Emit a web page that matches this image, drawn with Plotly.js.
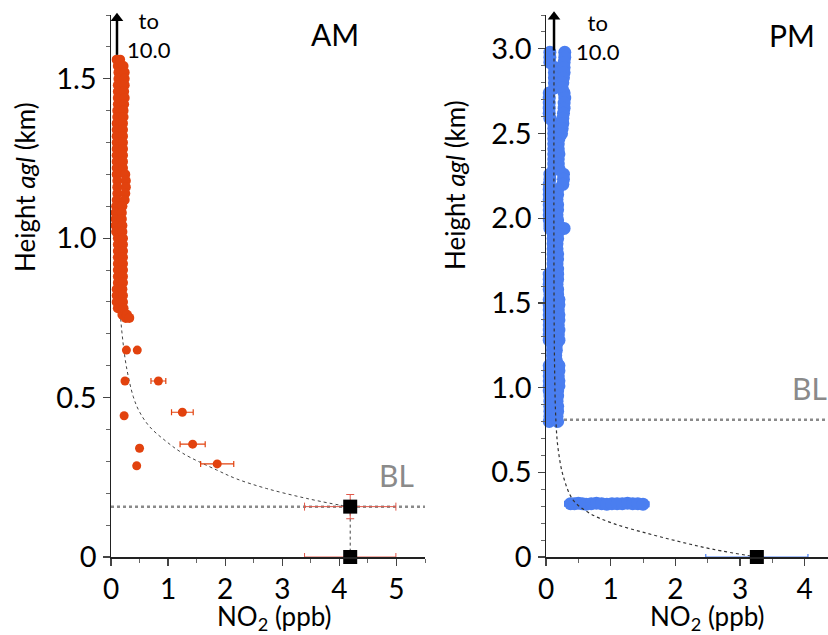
<!DOCTYPE html>
<html>
<head>
<meta charset="utf-8">
<script src="https://cdn.plot.ly/plotly-3.0.1.min.js"></script>
<style>html,body{margin:0;padding:0;background:#fff;}#chart{width:828px;height:635px;}</style>
</head>
<body>
<div id="chart"></div>
<script>
// ---------- AM panel data ----------
// dense aircraft profile above the boundary layer: height (km) with left/right extent of NO2 (ppb)
const amBandH  = [1.56,1.54,1.52,1.50,1.48,1.46,1.44,1.42,1.40,1.38,1.36,1.34,1.32,1.30,1.28,1.26,1.24,1.22,1.20,1.18,1.16,1.14,1.12,1.10,1.08,1.06,1.04,1.02,1.00,0.98,0.96,0.94,0.92,0.90,0.88,0.86,0.84,0.82,0.80,0.78,0.76,0.75];
const amBandXL = [0.10,0.12,0.13,0.13,0.12,0.12,0.12,0.12,0.11,0.11,0.10,0.10,0.10,0.10,0.10,0.10,0.10,0.10,0.10,0.11,0.11,0.11,0.10,0.09,0.08,0.08,0.08,0.09,0.12,0.12,0.12,0.12,0.12,0.12,0.12,0.12,0.10,0.10,0.10,0.12,0.20,0.26];
const amBandXR = [0.16,0.22,0.24,0.24,0.24,0.23,0.24,0.23,0.22,0.22,0.21,0.21,0.21,0.21,0.21,0.21,0.21,0.21,0.25,0.26,0.26,0.25,0.24,0.20,0.19,0.19,0.20,0.20,0.21,0.21,0.21,0.21,0.21,0.21,0.21,0.21,0.20,0.21,0.21,0.22,0.28,0.32];

const amPtX   = [0.27,0.46,0.245,0.83,0.23,1.25,1.43,0.50,1.86,0.45];
const amPtH   = [0.649,0.649,0.552,0.552,0.443,0.454,0.354,0.341,0.292,0.286];
const amPtErr = [0.03,0.04,0.0,0.13,0.0,0.19,0.22,0.05,0.29,0.05];

const amSurfX = [4.19,4.19];
const amSurfH = [0.158,0.0];
const amSurfErrX = [0.80,0.80];
const amSurfErrH = [0.038,0.0];

const amFitX = [4.19,4.0,3.42,2.72,2.2,1.85,1.26,0.95,0.68,0.50,0.39,0.27,0.20,0.16,0.13,0.115,0.105];
const amFitH = [0.158,0.163,0.184,0.215,0.245,0.273,0.325,0.365,0.408,0.455,0.503,0.597,0.69,0.774,0.9,1.1,1.56];

const amArrowX = [0.105,0.105];
const amArrowH = [1.575,1.69];

const amBL = 0.158;

// ---------- PM panel data ----------
const pmBandH  = [2.98,2.95,2.92,2.89,2.86,2.83,2.80,2.77,2.74,2.71,2.68,2.65,2.62,2.59,
                  2.56,2.53,2.50,2.47,2.44,2.41,2.38,2.35,2.32,2.29,2.26,2.23,2.20,2.17,2.14,2.11,2.08,2.05,2.02,1.99,1.96,
                  1.94,
                  1.91,1.88,1.85,1.82,1.79,1.76,1.73,1.70,1.67,1.64,1.61,1.58,1.55,1.52,1.49,1.46,1.43,1.40,1.37,1.34,1.31,1.28,1.25,1.22,1.19,1.16,1.13,1.10,1.07,1.04,1.01,0.98,0.95,0.92,0.89,0.86,0.83,0.80];
const pmBandXL = [0.06,0.06,0.06,0.13,0.13,0.13,0.13,0.13,0.05,0.05,0.05,0.05,0.05,0.06,
                  0.12,0.12,0.12,0.12,0.12,0.12,0.12,0.12,0.12,0.12,0.06,0.06,0.05,0.05,0.05,0.05,0.05,0.05,0.05,0.05,0.06,
                  0.06,
                  0.11,0.11,0.11,0.11,0.11,0.11,0.11,0.11,0.05,0.05,0.05,0.05,0.06,0.05,0.05,0.05,0.05,0.05,0.05,0.05,0.05,0.05,0.10,0.10,0.10,0.10,0.05,0.05,0.05,0.05,0.05,0.05,0.06,0.06,0.06,0.06,0.06,0.05];
const pmBandXR = [0.29,0.29,0.28,0.28,0.28,0.27,0.26,0.25,0.28,0.29,0.28,0.28,0.27,0.26,
                  0.26,0.25,0.24,0.20,0.19,0.19,0.20,0.19,0.19,0.20,0.27,0.27,0.26,0.18,0.18,0.17,0.18,0.18,0.17,0.18,0.19,
                  0.28,
                  0.18,0.18,0.17,0.17,0.18,0.18,0.17,0.18,0.18,0.18,0.17,0.18,0.18,0.20,0.20,0.19,0.20,0.20,0.19,0.20,0.19,0.20,0.16,0.16,0.15,0.16,0.20,0.20,0.19,0.20,0.20,0.18,0.18,0.17,0.18,0.18,0.17,0.18];

const pmLayerX = [0.38,0.44,0.50,0.56,0.62,0.70,0.78,0.86,0.94,1.02,1.10,1.18,1.26,1.34,1.42,1.50];
const pmLayerH = [0.315,0.315,0.318,0.315,0.312,0.315,0.318,0.315,0.312,0.315,0.315,0.315,0.318,0.315,0.315,0.312];

const pmSurfX = [3.26];
const pmSurfH = [0.0];
const pmSurfErrX = [0.79];

const pmFitX = [3.26,2.59,2.07,1.56,1.04,0.68,0.42,0.27,0.19,0.155,0.13,0.124];
const pmFitH = [0.0,0.045,0.09,0.14,0.198,0.257,0.336,0.473,0.63,0.79,1.2,2.98];

const pmArrowX = [0.124,0.124];
const pmArrowH = [2.99,3.19];

const pmBL = 0.81;

// ---------- ranges / ticks ----------
const amXRange = [0,5.5], amYRange = [0,1.7];
const pmXRange = [0,4.36], pmYRange = [0,3.2];
const amXTicks = [0,1,2,3,4,5], amXText = ["0","1","2","3","4","5"];
const amYTicks = [0,0.5,1.0,1.5], amYText = ["0","0.5","1.0","1.5"];
const pmXTicks = [0,1,2,3,4], pmXText = ["0","1","2","3","4"];
const pmYTicks = [0,0.5,1.0,1.5,2.0,2.5,3.0], pmYText = ["0","0.5","1.0","1.5","2.0","2.5","3.0"];
const xTitle = 'NO<sub>2</sub> (ppb)';
const yTitle = 'Height <i>agl</i> (km)';

const ORANGE = '#e2420e';
const BLUE = '#4a7ef0';
const FONT = 'Lato, "Open Sans", sans-serif';

const traces = [
  // AM
  {x: amXRange, y:[amBL,amBL], xaxis:'x', yaxis:'y', mode:'lines', line:{color:'#8a8a8a', width:2.5, dash:'dot'}, hoverinfo:'skip'},
  {x: amFitX, y: amFitH, xaxis:'x', yaxis:'y', mode:'lines', line:{color:'#444', width:1, dash:'dot', shape:'spline'}, hoverinfo:'skip'},
  {x: amSurfX, y: amSurfH, xaxis:'x', yaxis:'y', mode:'lines', line:{color:'#444', width:1, dash:'dot'}, hoverinfo:'skip'},
  {x: amBandXL, y: amBandH, xaxis:'x', yaxis:'y', mode:'markers', marker:{color:ORANGE, size:10}},
  {x: amBandXR, y: amBandH, xaxis:'x', yaxis:'y', mode:'markers', marker:{color:ORANGE, size:10}},
  {x: amPtX, y: amPtH, xaxis:'x', yaxis:'y', mode:'markers', marker:{color:ORANGE, size:9},
   error_x:{type:'data', array: amPtErr, color:ORANGE, thickness:1.2, width:3}},
  {x: amSurfX, y: amSurfH, xaxis:'x', yaxis:'y', mode:'markers', marker:{color:'#000', size:14, symbol:'square'},
   error_x:{type:'data', array: amSurfErrX, color:'#e0584a', thickness:1, width:4},
   error_y:{type:'data', array: amSurfErrH, color:'#e0584a', thickness:1, width:4}, cliponaxis:false},
  {x: amArrowX, y: amArrowH, xaxis:'x', yaxis:'y', mode:'lines', line:{color:'#000', width:2.5}, cliponaxis:false, hoverinfo:'skip'},
  {x: [amArrowX[1]], y: [amArrowH[1]], xaxis:'x', yaxis:'y', mode:'markers', marker:{color:'#000', size:11, symbol:'triangle-up'}, cliponaxis:false, hoverinfo:'skip'},
  // PM
  {x: pmXRange, y:[pmBL,pmBL], xaxis:'x2', yaxis:'y2', mode:'lines', line:{color:'#8a8a8a', width:2.5, dash:'dot'}, hoverinfo:'skip'},
  {x: pmBandXL, y: pmBandH, xaxis:'x2', yaxis:'y2', mode:'markers', marker:{color:BLUE, size:13}, cliponaxis:false},
  {x: pmBandXR, y: pmBandH, xaxis:'x2', yaxis:'y2', mode:'markers', marker:{color:BLUE, size:13}},
  {x: pmLayerX, y: pmLayerH, xaxis:'x2', yaxis:'y2', mode:'markers', marker:{color:BLUE, size:13},
   error_x:{type:'data', array: pmLayerX.map(()=>0.09), color:BLUE, thickness:1.5, width:3}},
  {x: pmFitX, y: pmFitH, xaxis:'x2', yaxis:'y2', mode:'lines', line:{color:'#333', width:1.2, dash:'dot', shape:'spline'}, hoverinfo:'skip'},
  {x: pmSurfX, y: pmSurfH, xaxis:'x2', yaxis:'y2', mode:'markers', marker:{color:'#000', size:14, symbol:'square'},
   error_x:{type:'data', array: pmSurfErrX, color:BLUE, thickness:1.2, width:3}, cliponaxis:false},
  {x: pmArrowX, y: pmArrowH, xaxis:'x2', yaxis:'y2', mode:'lines', line:{color:'#000', width:2.5}, cliponaxis:false, hoverinfo:'skip'},
  {x: [pmArrowX[1]], y: [pmArrowH[1]], xaxis:'x2', yaxis:'y2', mode:'markers', marker:{color:'#000', size:11, symbol:'triangle-up'}, cliponaxis:false, hoverinfo:'skip'}
];

function xAxis(domain, range, tv, tt, anchor){
  return {domain, range, anchor, tickmode:'array', tickvals:tv, ticktext:tt,
    showline:true, linecolor:'#222', linewidth:1.5, ticks:'outside', ticklen:7, tickwidth:1.2, tickcolor:'#444',
    minor:{dtick:0.5, ticks:'outside', ticklen:4, tickcolor:'#666', tickwidth:1},
    showgrid:false, zeroline:false, automargin:false, fixedrange:true,
    tickfont:{family:FONT, size:28, color:'#000'}};
}
function yAxis(domain, range, tv, tt, anchor){
  return {domain, range, anchor, tickmode:'array', tickvals:tv, ticktext:tt,
    showline:true, linecolor:'#222', linewidth:1.5, ticks:'outside', ticklen:7, tickwidth:1.2, tickcolor:'#444',
    minor:{dtick:0.1, ticks:'outside', ticklen:4, tickcolor:'#666', tickwidth:1},
    showgrid:false, zeroline:false, automargin:false, fixedrange:true,
    tickfont:{family:FONT, size:29, color:'#000'}};
}

const yDom = [1-557/635, 1-15/635];
const px = v => v/828, py = v => 1 - v/635;
const layout = {
  width:828, height:635, margin:{l:0,r:0,t:0,b:0},
  paper_bgcolor:'#fff', plot_bgcolor:'#fff', showlegend:false,
  font:{family:FONT, color:'#000'},
  xaxis: xAxis([111/828, 425/828], amXRange, amXTicks, amXText, 'y'),
  yaxis: yAxis(yDom, amYRange, amYTicks, amYText, 'x'),
  xaxis2: xAxis([546/828, 1], pmXRange, pmXTicks, pmXText, 'y2'),
  yaxis2: yAxis(yDom, pmYRange, pmYTicks, pmYText, 'x2'),
  annotations: [
    {xref:'x', yref:'y', x:0.66, y:1.636, text:'to<br>10.0', showarrow:false, font:{family:FONT, size:22, color:'#000'}},
    {xref:'x', yref:'y', x:3.93, y:1.64, text:'AM', showarrow:false, font:{family:FONT, size:30, color:'#000'}},
    {xref:'x', yref:'y', x:5.0, y:0.257, text:'BL', showarrow:false, font:{family:FONT, size:30, color:'#8a8a8a'}},
    {xref:'x2', yref:'y2', x:0.80, y:3.07, text:'to<br>10.0', showarrow:false, font:{family:FONT, size:22, color:'#000'}},
    {xref:'x2', yref:'y2', x:3.80, y:3.08, text:'PM', showarrow:false, font:{family:FONT, size:30, color:'#000'}},
    {xref:'x2', yref:'y2', x:4.08, y:0.995, text:'BL', showarrow:false, font:{family:FONT, size:30, color:'#8a8a8a'}},
    {xref:'paper', yref:'paper', x:px(274), y:py(617), xanchor:'center', yanchor:'middle', text:xTitle, showarrow:false, font:{family:FONT, size:26, color:'#000'}},
    {xref:'paper', yref:'paper', x:px(707), y:py(617), xanchor:'center', yanchor:'middle', text:xTitle, showarrow:false, font:{family:FONT, size:26, color:'#000'}},
    {xref:'paper', yref:'paper', x:px(25), y:py(187), xanchor:'center', yanchor:'middle', textangle:-90, text:yTitle, showarrow:false, font:{family:FONT, size:26, color:'#000'}},
    {xref:'paper', yref:'paper', x:px(455), y:py(185), xanchor:'center', yanchor:'middle', textangle:-90, text:yTitle, showarrow:false, font:{family:FONT, size:26, color:'#000'}}
  ]
};

Plotly.newPlot('chart', traces, layout, {staticPlot:true, displayModeBar:false});
</script>
</body>
</html>
